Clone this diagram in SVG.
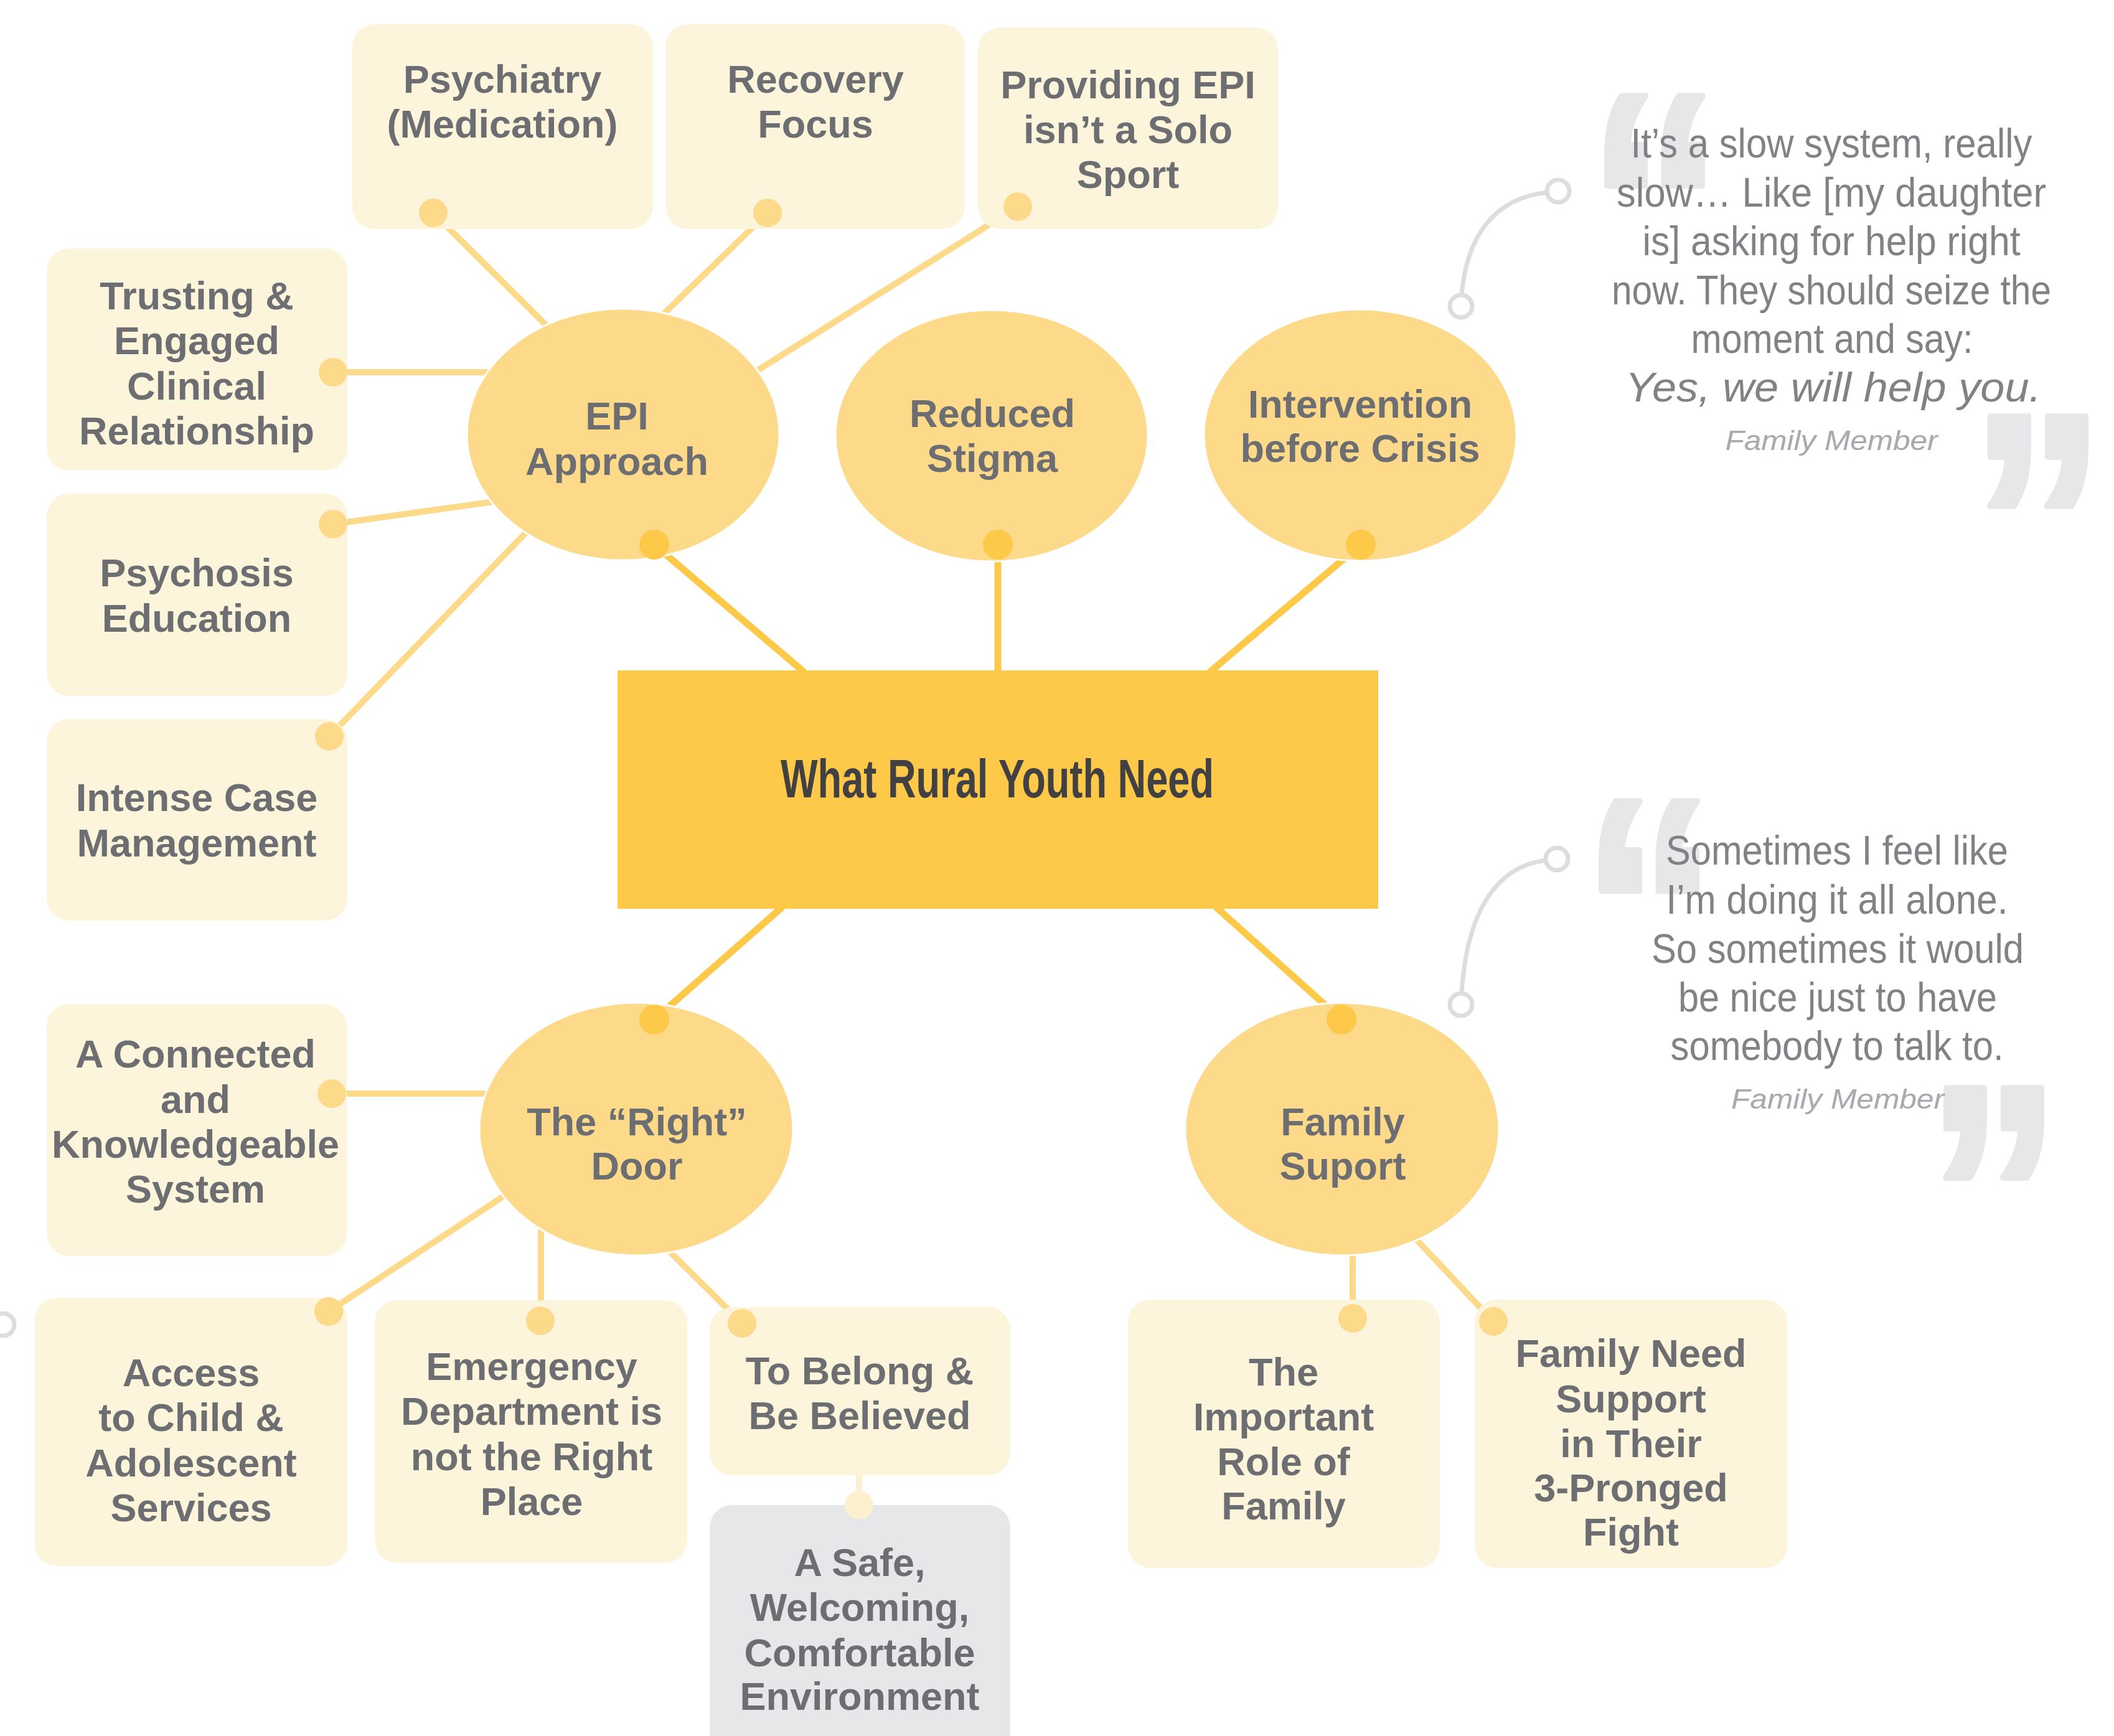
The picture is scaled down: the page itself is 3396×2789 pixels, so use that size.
<svg xmlns="http://www.w3.org/2000/svg" width="3396" height="2789" viewBox="0 0 3396 2789">
<style>
.box{fill:#fdf4dc}
.gbox{fill:#e6e7e8}
.circ{fill:#fdd98a;stroke:#fff;stroke-width:3}
.ln{stroke:#fdd98a;stroke-width:10;fill:none}
.lnd{stroke:#fec849;stroke-width:11;fill:none}
.lnp{stroke:#fdf0cf;stroke-width:10;fill:none}
.dot{fill:#fdd98a}
.dotd{fill:#fec849}
.dotp{fill:#fdf0cf}
.t{font-family:"Liberation Sans",Arial,sans-serif;font-weight:bold;font-size:63px;fill:#6d6e71;text-anchor:middle}
.title{font-family:"Liberation Sans Narrow","Liberation Sans",Arial,sans-serif;font-weight:bold;font-size:88px;fill:#414042;text-anchor:middle}
.q{font-family:"Liberation Sans Narrow","Liberation Sans",Arial,sans-serif;font-size:67px;fill:#808285;text-anchor:middle}
.qi{font-style:italic}
.qa{font-family:"Liberation Sans Narrow","Liberation Sans",Arial,sans-serif;font-style:italic;font-size:45px;fill:#a7a9ac;text-anchor:middle}
.qm{font-family:"Liberation Sans",Arial,sans-serif;font-weight:bold;font-size:510px;fill:#e6e7e8;stroke:#e6e7e8;stroke-width:10;stroke-linejoin:round}
.ring{fill:#fff;stroke:#dcddde;stroke-width:7}
.qc{fill:none;stroke:#dcddde;stroke-width:7}
</style>
<rect width="3396" height="2789" fill="#fff"/>

<g id="connectors">
  <line class="ln" x1="696" y1="342" x2="900" y2="545"/>
  <line class="ln" x1="1233" y1="342" x2="1050" y2="520"/>
  <line class="ln" x1="1635" y1="332" x2="1190" y2="612"/>
  <line class="ln" x1="535" y1="598" x2="800" y2="598"/>
  <line class="ln" x1="535" y1="842" x2="800" y2="805"/>
  <line class="ln" x1="529" y1="1183" x2="860" y2="840"/>
  <line class="ln" x1="533" y1="1757" x2="800" y2="1757"/>
  <line class="ln" x1="528" y1="2107" x2="830" y2="1908"/>
  <line class="ln" x1="869" y1="2122" x2="869" y2="1950"/>
  <line class="ln" x1="1192" y1="2126" x2="1060" y2="1995"/>
  <line class="ln" x1="2173" y1="2118" x2="2173" y2="2000"/>
  <line class="ln" x1="2399" y1="2123" x2="2260" y2="1975"/>
  <line class="lnp" x1="1380" y1="2360" x2="1380" y2="2418"/>
  <line class="lnd" x1="1051" y1="875" x2="1292" y2="1080"/>
  <line class="lnd" x1="1603" y1="875" x2="1603" y2="1080"/>
  <line class="lnd" x1="2186" y1="875" x2="1943" y2="1080"/>
  <line class="lnd" x1="1051" y1="1638" x2="1257" y2="1457"/>
  <line class="lnd" x1="2155" y1="1638" x2="1953" y2="1457"/>
</g>

<g id="quote1">
  <text class="qm" transform="translate(2549,505) scale(0.86,1)">“</text>
  <text class="qm" transform="translate(3164,1020) scale(0.86,1)">”</text>
  <path class="qc" d="M2486,309 C2400,318 2356,380 2348,474"/>
  <circle class="ring" cx="2503" cy="307" r="18"/>
  <circle class="ring" cx="2347" cy="492" r="18"/>
  <text class="q" x="2942" y="253" textLength="645" lengthAdjust="spacingAndGlyphs">It’s a slow system, really</text>
  <text class="q" x="2942" y="332" textLength="690" lengthAdjust="spacingAndGlyphs">slow… Like [my daughter</text>
  <text class="q" x="2942" y="410" textLength="607" lengthAdjust="spacingAndGlyphs">is] asking for help right</text>
  <text class="q" x="2942" y="489" textLength="706" lengthAdjust="spacingAndGlyphs">now. They should seize the</text>
  <text class="q" x="2943" y="567" textLength="453" lengthAdjust="spacingAndGlyphs">moment and say:</text>
  <text class="q qi" x="2945" y="645" textLength="668" lengthAdjust="spacingAndGlyphs">Yes, we will help you.</text>
  <text class="qa" x="2942" y="723" textLength="341" lengthAdjust="spacingAndGlyphs">Family Member</text>
</g>

<g id="quote2">
  <text class="qm" transform="translate(2540,1638) scale(0.86,1)">“</text>
  <text class="qm" transform="translate(3093,2099) scale(0.86,1)">”</text>
  <path class="qc" d="M2484,1382 C2400,1392 2356,1470 2348,1596"/>
  <circle class="ring" cx="2501" cy="1380" r="18"/>
  <circle class="ring" cx="2347" cy="1614" r="18"/>
  <text class="q" x="2951" y="1389" textLength="550" lengthAdjust="spacingAndGlyphs">Sometimes I feel like</text>
  <text class="q" x="2951" y="1468" textLength="549" lengthAdjust="spacingAndGlyphs">I’m doing it all alone.</text>
  <text class="q" x="2952" y="1547" textLength="598" lengthAdjust="spacingAndGlyphs">So sometimes it would</text>
  <text class="q" x="2952" y="1625" textLength="512" lengthAdjust="spacingAndGlyphs">be nice just to have</text>
  <text class="q" x="2951" y="1703" textLength="535" lengthAdjust="spacingAndGlyphs">somebody to talk to.</text>
  <text class="qa" x="2952" y="1781" textLength="342" lengthAdjust="spacingAndGlyphs">Family Member</text>
</g>

<circle class="ring" cx="5" cy="2128" r="18"/>

<g id="center">
  <rect x="992" y="1077" width="1222" height="383" fill="#fec849"/>
  <text class="title" x="1602" y="1281" textLength="696" lengthAdjust="spacingAndGlyphs">What Rural Youth Need</text>
</g>

<g id="epi-approach">
  <ellipse class="circ" cx="1001" cy="698" rx="251" ry="202"/>
  <text class="t" x="991" y="690">EPI</text>
  <text class="t" x="991" y="763">Approach</text>
  <circle class="dotd" cx="1051" cy="875" r="24"/>
</g>
<g id="reduced-stigma">
  <ellipse class="circ" cx="1593" cy="700" rx="251" ry="202"/>
  <text class="t" x="1594" y="686">Reduced</text>
  <text class="t" x="1594" y="758">Stigma</text>
  <circle class="dotd" cx="1603" cy="875" r="24"/>
</g>
<g id="intervention">
  <ellipse class="circ" cx="2185" cy="699" rx="251" ry="202"/>
  <text class="t" x="2185" y="671">Intervention</text>
  <text class="t" x="2185" y="742">before Crisis</text>
  <circle class="dotd" cx="2186" cy="875" r="24"/>
</g>
<g id="right-door">
  <ellipse class="circ" cx="1022" cy="1814" rx="252" ry="203"/>
  <text class="t" x="1023" y="1824">The “Right”</text>
  <text class="t" x="1023" y="1895">Door</text>
  <circle class="dotd" cx="1051" cy="1638" r="24"/>
</g>
<g id="family-support">
  <ellipse class="circ" cx="2156" cy="1814" rx="252" ry="203"/>
  <text class="t" x="2157" y="1824">Family</text>
  <text class="t" x="2157" y="1895">Suport</text>
  <circle class="dotd" cx="2155" cy="1638" r="24"/>
</g>

<g id="psychiatry">
  <rect class="box" x="566" y="39" width="483" height="329" rx="36"/>
  <text class="t" x="807" y="149">Psychiatry</text>
  <text class="t" x="807" y="221">(Medication)</text>
  <circle class="dot" cx="696" cy="342" r="23"/>
</g>
<g id="recovery">
  <rect class="box" x="1069" y="39" width="481" height="329" rx="36"/>
  <text class="t" x="1310" y="149">Recovery</text>
  <text class="t" x="1310" y="221">Focus</text>
  <circle class="dot" cx="1233" cy="342" r="23"/>
</g>
<g id="providing">
  <rect class="box" x="1571" y="44" width="482" height="324" rx="36"/>
  <text class="t" x="1812" y="158">Providing EPI</text>
  <text class="t" x="1812" y="230">isn’t a Solo</text>
  <text class="t" x="1812" y="302">Sport</text>
  <circle class="dot" cx="1635" cy="332" r="23"/>
</g>
<g id="trusting">
  <rect class="box" x="75" y="399" width="483" height="357" rx="36"/>
  <text class="t" x="316" y="497">Trusting &amp;</text>
  <text class="t" x="316" y="569">Engaged</text>
  <text class="t" x="316" y="642">Clinical</text>
  <text class="t" x="316" y="714">Relationship</text>
  <circle class="dot" cx="535" cy="598" r="23"/>
</g>
<g id="psychosis">
  <rect class="box" x="75" y="793" width="483" height="325" rx="36"/>
  <text class="t" x="316" y="942">Psychosis</text>
  <text class="t" x="316" y="1015">Education</text>
  <circle class="dot" cx="535" cy="842" r="23"/>
</g>
<g id="intense">
  <rect class="box" x="75" y="1155" width="483" height="324" rx="36"/>
  <text class="t" x="316" y="1303">Intense Case</text>
  <text class="t" x="316" y="1376">Management</text>
  <circle class="dot" cx="529" cy="1183" r="23"/>
</g>
<g id="connected">
  <rect class="box" x="75" y="1613" width="482" height="405" rx="36"/>
  <text class="t" x="314" y="1715">A Connected</text>
  <text class="t" x="314" y="1788">and</text>
  <text class="t" x="314" y="1860">Knowledgeable</text>
  <text class="t" x="314" y="1932">System</text>
  <circle class="dot" cx="533" cy="1757" r="23"/>
</g>
<g id="access">
  <rect class="box" x="56" y="2085" width="502" height="431" rx="36"/>
  <text class="t" x="307" y="2227">Access</text>
  <text class="t" x="307" y="2299">to Child &amp;</text>
  <text class="t" x="307" y="2372">Adolescent</text>
  <text class="t" x="307" y="2444">Services</text>
  <circle class="dot" cx="528" cy="2107" r="23"/>
</g>
<g id="emergency">
  <rect class="box" x="602" y="2089" width="502" height="422" rx="36"/>
  <text class="t" x="854" y="2217">Emergency</text>
  <text class="t" x="854" y="2289">Department is</text>
  <text class="t" x="854" y="2362">not the Right</text>
  <text class="t" x="854" y="2434">Place</text>
  <circle class="dot" cx="868" cy="2122" r="23"/>
</g>
<g id="belong">
  <rect class="box" x="1140" y="2100" width="483" height="270" rx="36"/>
  <text class="t" x="1381" y="2224">To Belong &amp;</text>
  <text class="t" x="1381" y="2296">Be Believed</text>
  <circle class="dot" cx="1192" cy="2126" r="23"/>
</g>
<g id="safe">
  <rect class="gbox" x="1140" y="2418" width="483" height="420" rx="36"/>
  <text class="t" x="1381" y="2532">A Safe,</text>
  <text class="t" x="1381" y="2604">Welcoming,</text>
  <text class="t" x="1381" y="2677">Comfortable</text>
  <text class="t" x="1381" y="2747">Environment</text>
  <circle class="dotp" cx="1380" cy="2418" r="23"/>
</g>
<g id="important-role">
  <rect class="box" x="1812" y="2088" width="501" height="431" rx="36"/>
  <text class="t" x="2062" y="2226">The</text>
  <text class="t" x="2062" y="2298">Important</text>
  <text class="t" x="2062" y="2370">Role of</text>
  <text class="t" x="2062" y="2441">Family</text>
  <circle class="dot" cx="2173" cy="2118" r="23"/>
</g>
<g id="family-need">
  <rect class="box" x="2369" y="2088" width="502" height="431" rx="36"/>
  <text class="t" x="2620" y="2196">Family Need</text>
  <text class="t" x="2620" y="2269">Support</text>
  <text class="t" x="2620" y="2341">in Their</text>
  <text class="t" x="2620" y="2412">3-Pronged</text>
  <text class="t" x="2620" y="2483">Fight</text>
  <circle class="dot" cx="2399" cy="2123" r="23"/>
</g>
</svg>
